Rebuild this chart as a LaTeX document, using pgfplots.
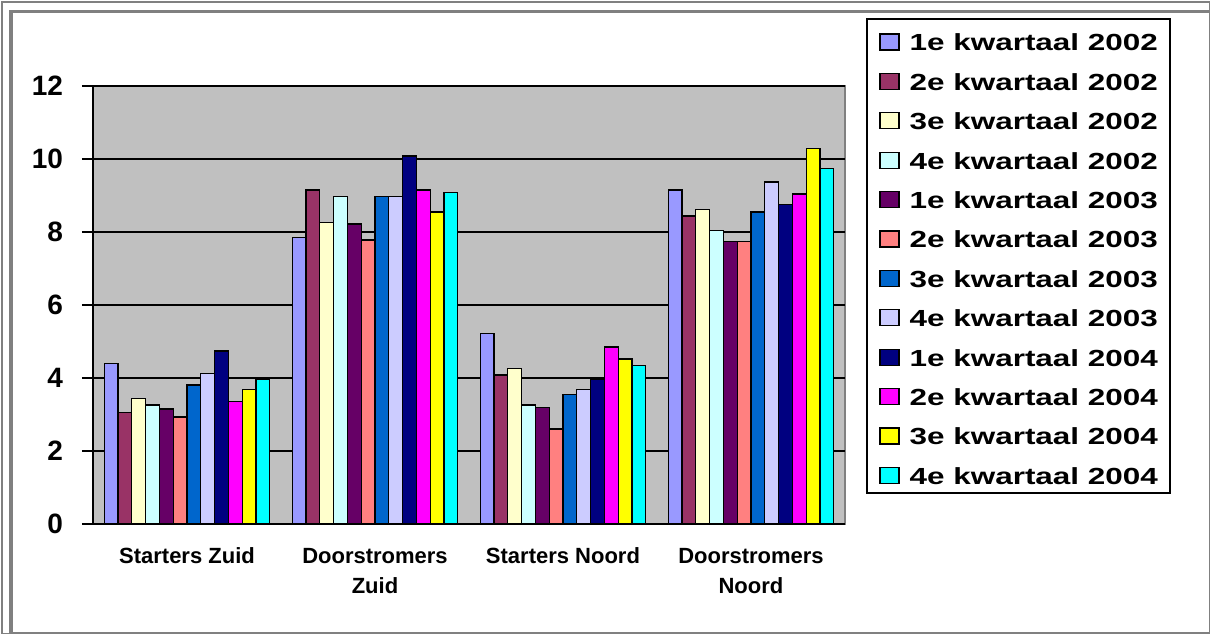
\documentclass[border=0pt]{standalone}
\usepackage{fontspec}
\setmainfont{Liberation Sans}
\newfontfamily\legfont{Liberation Sans}[FakeStretch=1.35]
\usepackage{pgfplots}
\usepackage{pgfplotstable}
\pgfplotsset{compat=1.18}

\definecolor{c1}{HTML}{9999FF}
\definecolor{c2}{HTML}{993366}
\definecolor{c3}{HTML}{FFFFCC}
\definecolor{c4}{HTML}{CCFFFF}
\definecolor{c5}{HTML}{660066}
\definecolor{c6}{HTML}{FF8080}
\definecolor{c7}{HTML}{0066CC}
\definecolor{c8}{HTML}{CCCCFF}
\definecolor{c9}{HTML}{000080}
\definecolor{c10}{HTML}{FF00FF}
\definecolor{c11}{HTML}{FFFF00}
\definecolor{c12}{HTML}{00FFFF}
\definecolor{plotbg}{HTML}{C0C0C0}
\definecolor{framegray}{HTML}{808080}

% rows: Starters Zuid, Doorstromers Zuid, Starters Noord, Doorstromers Noord
\pgfplotstableread{
x  q1   q2   q3   q4   q5   q6   q7   q8   q9    q10  q11   q12
0  4.40 3.05 3.43 3.26 3.15 2.93 3.81 4.13 4.74  3.36 3.69  3.95
1  7.85 9.15 8.27 8.98 8.22 7.78 8.98 8.98 10.08 9.15 8.55  9.09
2  5.22 4.08 4.25 3.26 3.20 2.60 3.54 3.69 3.96  4.85 4.52  4.35
3  9.15 8.44 8.61 8.05 7.73 7.73 8.55 9.37 8.76  9.04 10.29 9.75
}\kwartaal

\begin{document}
\begin{tikzpicture}
% page size and outer frame (1 px = 0.5 pt)
\useasboundingbox (0,0) rectangle (606pt,317.5pt);
\draw[framegray, line width=0.8pt] (1pt,0.8pt) rectangle (604.8pt,316.5pt);
\draw[framegray, line width=1.6pt] (5.5pt,0.8pt) -- (5.5pt,311.8pt) -- (604.8pt,311.8pt);
\draw[framegray, line width=1.4pt] (5.5pt,1pt) -- (604.8pt,1pt);
% legend frame
\draw[black, line width=0.8pt, fill=white] (433.5pt,71pt) rectangle (585pt,308pt);

\begin{axis}[
  at={(46.5pt,55.5pt)}, anchor=south west,
  scale only axis, width=376pt, height=219pt,
  xmin=-0.5, xmax=3.5, ymin=0, ymax=12,
  axis lines=left,
  axis line style={-, black, line width=0.8pt},
  axis background/.style={fill=plotbg, draw=framegray, line width=0.8pt},
  ytick={0,2,...,12},
  ymajorgrids,
  major grid style={black, line width=0.8pt},
  tick align=outside,
  major tick length=5.5pt,
  tick style={black, line width=0.8pt},
  /pgf/number format/assume math mode=true,
  yticklabel style={font=\fontsize{14}{16}\selectfont\bfseries, xshift=-6pt},
  xtick={0,1,2,3},
  xticklabels={Starters Zuid, Doorstromers\\Zuid, Starters Noord, Doorstromers\\Noord},
  xticklabel style={font=\fontsize{11}{15}\selectfont\bfseries, align=center, yshift=-3pt},
  x tick style={draw=none},
  extra x ticks={-0.5,0.5,1.5,2.5,3.5},
  extra x tick labels={},
  extra x tick style={grid=none, major tick length=2.5pt, tick style={draw=black, line width=0.8pt}},
  ybar=0pt, bar width=6.9pt,
  every axis plot/.append style={draw=black, line width=0.6pt},
  legend image code/.code={\draw[#1, line width=0.6pt, draw=black] (0pt,-3.8pt) rectangle (9.5pt,4.2pt);},
  legend style={at={(1.0293,1.153)}, anchor=north west, draw=none, fill=none,
    inner xsep=6pt, inner ysep=7pt,
    font=\legfont\bfseries\fontsize{11.65}{14}\selectfont,
    row sep=10.95pt,
    nodes={inner sep=0pt, text height=8.5pt, text depth=0pt},
    /tikz/every odd column/.append style={column sep=5pt}},
  legend cell align=left,
]
\addplot[fill=c1]  table[x=x, y=q1]  {\kwartaal};
\addplot[fill=c2]  table[x=x, y=q2]  {\kwartaal};
\addplot[fill=c3]  table[x=x, y=q3]  {\kwartaal};
\addplot[fill=c4]  table[x=x, y=q4]  {\kwartaal};
\addplot[fill=c5]  table[x=x, y=q5]  {\kwartaal};
\addplot[fill=c6]  table[x=x, y=q6]  {\kwartaal};
\addplot[fill=c7]  table[x=x, y=q7]  {\kwartaal};
\addplot[fill=c8]  table[x=x, y=q8]  {\kwartaal};
\addplot[fill=c9]  table[x=x, y=q9]  {\kwartaal};
\addplot[fill=c10] table[x=x, y=q10] {\kwartaal};
\addplot[fill=c11] table[x=x, y=q11] {\kwartaal};
\addplot[fill=c12] table[x=x, y=q12] {\kwartaal};
\legend{1e kwartaal 2002, 2e kwartaal 2002, 3e kwartaal 2002, 4e kwartaal 2002,
        1e kwartaal 2003, 2e kwartaal 2003, 3e kwartaal 2003, 4e kwartaal 2003,
        1e kwartaal 2004, 2e kwartaal 2004, 3e kwartaal 2004, 4e kwartaal 2004}
\end{axis}
\end{tikzpicture}
\end{document}
